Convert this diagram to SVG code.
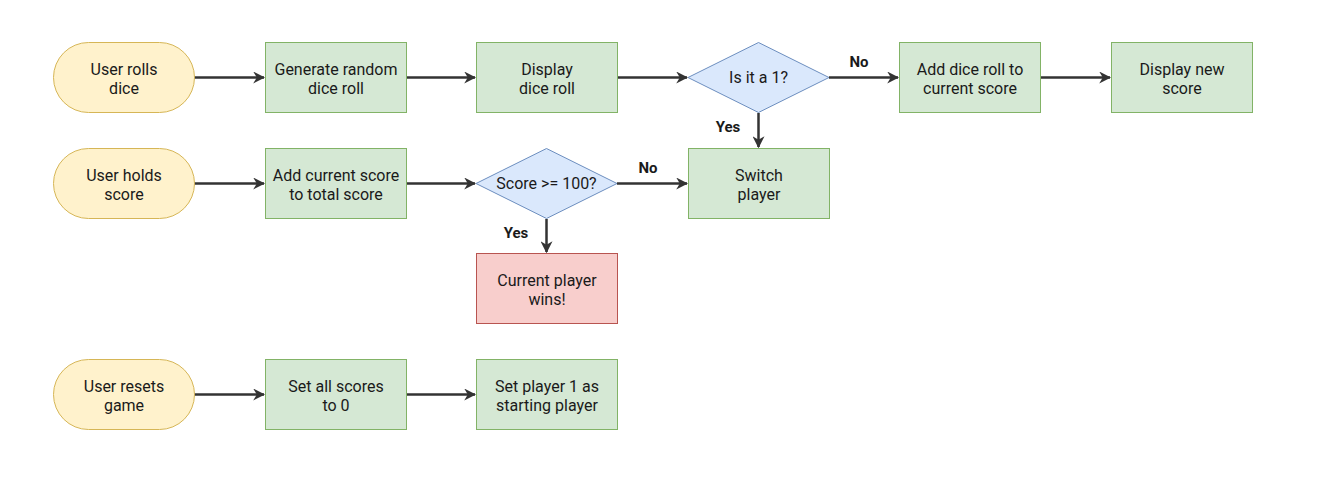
<svg xmlns="http://www.w3.org/2000/svg" width="1319" height="481" viewBox="0 0 1319 481">
<defs>
<style>
text{font-family:Roboto,"Liberation Sans",sans-serif;font-size:16px;fill:#1a1a1a;text-anchor:middle}
.lbl{font-weight:bold;font-size:15px}
.term{fill:#fff2cc;stroke:#d6b656;stroke-width:1}
.proc{fill:#d5e8d4;stroke:#82b366;stroke-width:1}
.dec{fill:#dae8fc;stroke:#6c8ebf;stroke-width:1}
.end{fill:#f8cecc;stroke:#b85450;stroke-width:1}
.edge{stroke:#333;stroke-width:2.5;fill:none;marker-end:url(#arr)}
</style>
<marker id="arr" viewBox="0 0 10 10" refX="9" refY="5" markerWidth="12" markerHeight="12" markerUnits="userSpaceOnUse" orient="auto">
<path d="M0,0 L10,5 L0,10 L3,5 Z" fill="#333"/>
</marker>
</defs>
<rect width="1319" height="481" fill="#fff"/>
<g id="connectors">
<path class="edge" d="M194,77.5 H264"/>
<path class="edge" d="M406,77.5 H475"/>
<path class="edge" d="M617,77.5 H687"/>
<path class="edge" d="M829,77.5 H898"/>
<path class="edge" d="M1040,77.5 H1110"/>
<path class="edge" d="M758.5,113 V147"/>
<path class="edge" d="M194,183.5 H264"/>
<path class="edge" d="M406,183.5 H475"/>
<path class="edge" d="M617,183.5 H687"/>
<path class="edge" d="M546.5,219 V252"/>
<path class="edge" d="M194,394.5 H264"/>
<path class="edge" d="M406,394.5 H475"/>
<text class="lbl" x="859" y="67">No</text>
<text class="lbl" x="728" y="132">Yes</text>
<text class="lbl" x="648" y="173">No</text>
<text class="lbl" x="516" y="238">Yes</text>
</g>
<g id="n1"><rect class="term" x="53.5" y="42.5" width="141" height="70" rx="35"/><text x="124" y="75">User rolls</text><text x="124" y="94">dice</text></g>
<g id="n2"><rect class="proc" x="265.5" y="42.5" width="141" height="70"/><text x="336" y="75">Generate random</text><text x="336" y="94">dice roll</text></g>
<g id="n3"><rect class="proc" x="476.5" y="42.5" width="141" height="70"/><text x="547" y="75">Display</text><text x="547" y="94">dice roll</text></g>
<g id="n4"><path class="dec" d="M758.5,42.5 L829,77.5 L758.5,112.5 L688,77.5 Z"/><text x="758.5" y="83">Is it a 1?</text></g>
<g id="n5"><rect class="proc" x="899.5" y="42.5" width="141" height="70"/><text x="970" y="75">Add dice roll to</text><text x="970" y="94">current score</text></g>
<g id="n6"><rect class="proc" x="1111.5" y="42.5" width="141" height="70"/><text x="1182" y="75">Display new</text><text x="1182" y="94">score</text></g>
<g id="n7"><rect class="term" x="53.5" y="148.5" width="141" height="70" rx="35"/><text x="124" y="181">User holds</text><text x="124" y="200">score</text></g>
<g id="n8"><rect class="proc" x="265.5" y="148.5" width="141" height="70"/><text x="336" y="181">Add current score</text><text x="336" y="200">to total score</text></g>
<g id="n9"><path class="dec" d="M546.5,148.5 L617,183.5 L546.5,218.5 L476,183.5 Z"/><text x="546.5" y="189">Score &gt;= 100?</text></g>
<g id="n10"><rect class="proc" x="688.5" y="148.5" width="141" height="70"/><text x="759" y="181">Switch</text><text x="759" y="200">player</text></g>
<g id="n11"><rect class="end" x="476.5" y="253.5" width="141" height="70"/><text x="547" y="286">Current player</text><text x="547" y="305">wins!</text></g>
<g id="n12"><rect class="term" x="53.5" y="359.5" width="141" height="70" rx="35"/><text x="124" y="392">User resets</text><text x="124" y="411">game</text></g>
<g id="n13"><rect class="proc" x="265.5" y="359.5" width="141" height="70"/><text x="336" y="392">Set all scores</text><text x="336" y="411">to 0</text></g>
<g id="n14"><rect class="proc" x="476.5" y="359.5" width="141" height="70"/><text x="547" y="392">Set player 1 as</text><text x="547" y="411">starting player</text></g>
</svg>
